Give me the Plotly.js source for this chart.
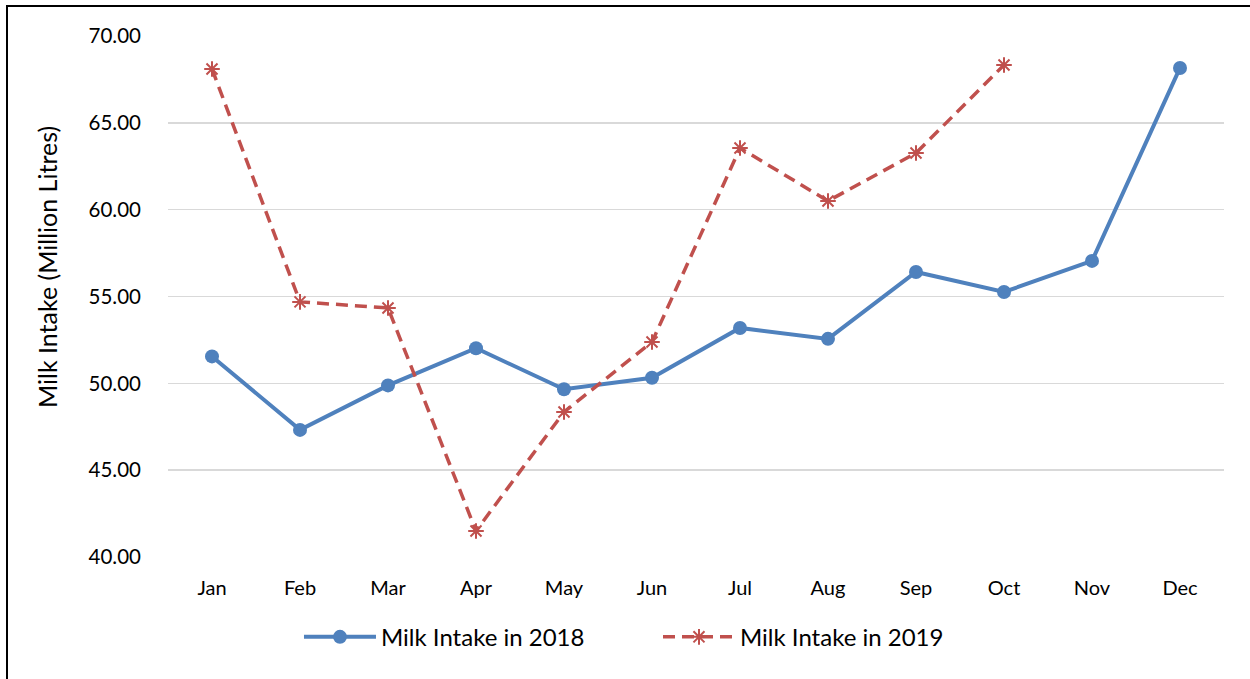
<!DOCTYPE html>
<html>
<head>
<meta charset="utf-8">
<script src="https://cdn.plot.ly/plotly-3.0.1.min.js"></script>
<style>
html,body{margin:0;padding:0;overflow:hidden;background:#fff;}
#chart{position:absolute;left:0;top:0;width:1250px;height:679px;}
#frame{position:absolute;left:6px;top:5px;width:1400px;height:900px;border:2px solid #000;pointer-events:none;}
</style>
</head>
<body>
<div id="chart"></div>
<div id="frame"></div>
<script>
const months = ["Jan","Feb","Mar","Apr","May","Jun","Jul","Aug","Sep","Oct","Nov","Dec"];
const intake2018 = [51.55, 47.32, 49.88, 52.02, 49.66, 50.32, 53.19, 52.56, 56.41, 55.26, 57.05, 68.16];
const intake2019 = [68.10, 54.69, 54.34, 41.50, 48.35, 52.38, 63.55, 60.50, 63.26, 68.33];
const months2019 = months.slice(0, intake2019.length);
const yTicks = [40, 45, 50, 55, 60, 65, 70];
const yTitle = "Milk Intake (Million Litres)";

const FONT = "Lato, 'Open Sans', sans-serif";

const traces = [
  {
    x: months, y: intake2018, name: "Milk Intake in 2018",
    type: "scatter", mode: "lines+markers",
    line: {color: "#4F81BD", width: 4},
    marker: {symbol: "circle", size: 14, color: "#4F81BD"}
  },
  {
    x: months2019, y: intake2019, name: "Milk Intake in 2019",
    type: "scatter", mode: "lines+markers",
    line: {color: "#C0504D", width: 3.5, dash: "12px,7px"},
    marker: {symbol: "asterisk-open", size: 13, color: "#C0504D", line: {color: "#C0504D", width: 2}}
  }
];

const layout = {
  width: 1250, height: 679,
  margin: {l: 168, r: 26, t: 36, b: 122},
  paper_bgcolor: "#fff", plot_bgcolor: "#fff",
  font: {family: FONT, size: 20, color: "#000"},
  showlegend: true,
  legend: {orientation: "h", x: 0.464, xanchor: "center", y: -0.154, yanchor: "middle",
           font: {family: FONT, size: 24, color: "#000"}, itemwidth: 72,
           entrywidth: 272, entrywidthmode: "pixels", tracegroupgap: 0},
  xaxis: {
    type: "category", categoryarray: months, categoryorder: "array",
    range: [-0.5, 11.5], showgrid: false, zeroline: false, showline: false,
    ticks: "", tickfont: {family: FONT, size: 20, color: "#000"}, ticklabelstandoff: 17
  },
  yaxis: {
    range: [40, 70], tickvals: yTicks, ticktext: yTicks.map(v => v.toFixed(2)),
    showgrid: true, gridcolor: "#D9D9D9", gridwidth: 1.5, zeroline: false, showline: false,
    ticks: "", tickfont: {family: FONT, size: 20.5, color: "#000"}, ticklabelstandoff: 26
  },
  annotations: [{
    text: yTitle, textangle: -90, showarrow: false,
    xref: "paper", yref: "paper", x: -0.1146, y: 0.5566, xanchor: "center", yanchor: "middle",
    font: {family: FONT, size: 25, color: "#000"}
  }]
};

Plotly.newPlot("chart", traces, layout, {displayModeBar: false, staticPlot: true});
</script>
</body>
</html>
